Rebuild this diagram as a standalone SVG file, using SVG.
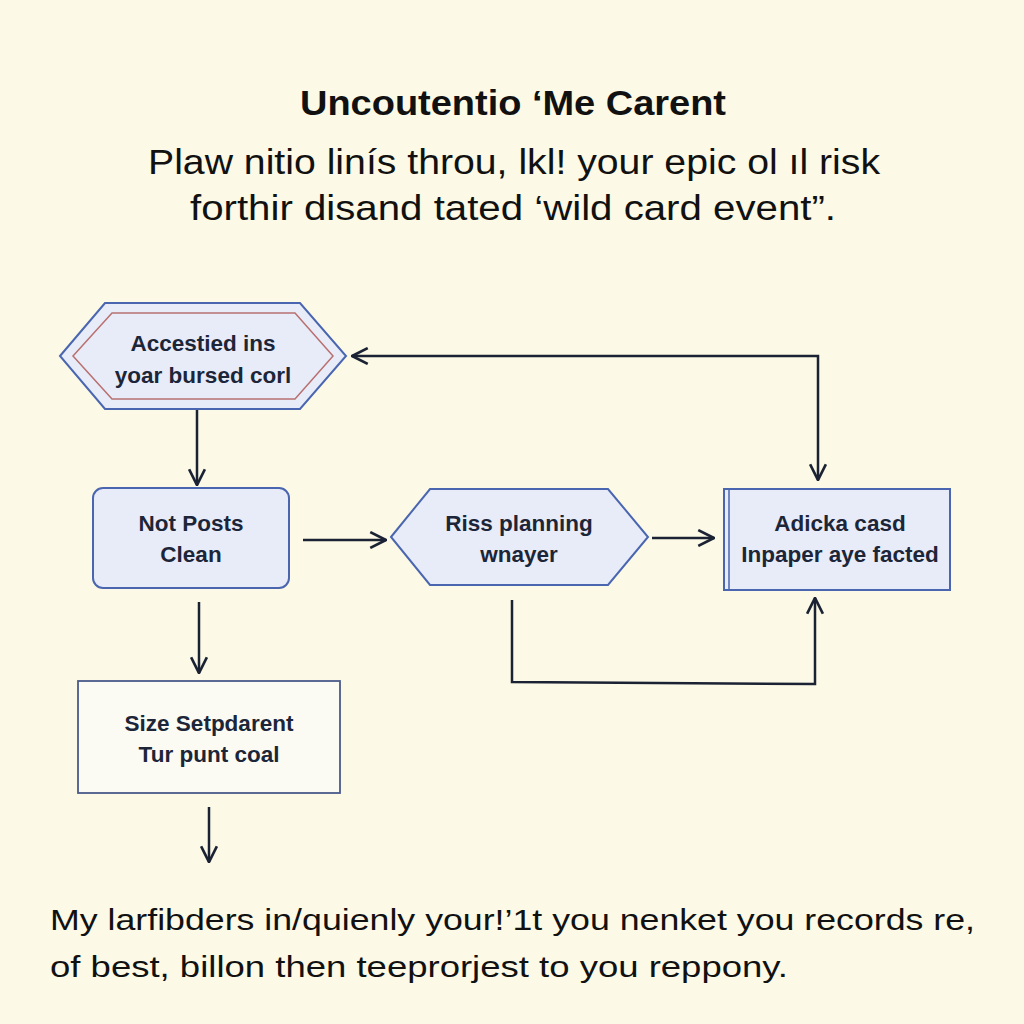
<svg xmlns="http://www.w3.org/2000/svg" width="1024" height="1024" viewBox="0 0 1024 1024">
<defs>
<style>
.bg{fill:#fcfae6}
.title{font-family:"Liberation Sans",Arial,sans-serif;font-weight:bold;font-size:35px;fill:#111;text-anchor:middle}
.sub{font-family:"Liberation Sans",Arial,sans-serif;font-size:35px;fill:#111;text-anchor:middle}
.lbl{font-family:"Liberation Sans",Arial,sans-serif;font-size:22.5px;font-weight:bold;fill:#1c2638;text-anchor:middle}
.foot{font-family:"Liberation Sans",Arial,sans-serif;font-size:30px;fill:#111}
.node{fill:#e8ecf8;stroke:#4a66b0;stroke-width:2}
.conn{fill:none;stroke:#1a2233;stroke-width:2.5}
</style>
<marker id="ahs" viewBox="0 0 16 16" refX="15" refY="8" markerWidth="18" markerHeight="18" markerUnits="userSpaceOnUse" orient="auto-start-reverse">
<path d="M1,1 L15,8 L1,15" fill="none" stroke="#1a2233" stroke-width="2.4"/>
</marker>
</defs>
<rect class="bg" x="0" y="0" width="1024" height="1024"/>
<text class="title" x="513" y="115" textLength="426" lengthAdjust="spacingAndGlyphs">Uncoutentio ‘Me Carent</text>
<text class="sub" x="514" y="174" textLength="732" lengthAdjust="spacingAndGlyphs">Plaw nitio linís throu, lkl! your epic ol ıl risk</text>
<text class="sub" x="513" y="220" textLength="646" lengthAdjust="spacingAndGlyphs">forthir disand tated ‘wild card event”.</text>

<g id="connectors">
<path class="conn" d="M197,410 L197,485" marker-end="url(#ahs)"/>
<path class="conn" d="M303,540 L386,540" marker-end="url(#ahs)"/>
<path class="conn" d="M652,538 L714,538" marker-end="url(#ahs)"/>
<path class="conn" d="M352,356 L818,356 L818,480" marker-start="url(#ahs)" marker-end="url(#ahs)"/>
<path class="conn" d="M512,600 L512,682 L815,684 L815,598" marker-end="url(#ahs)"/>
<path class="conn" d="M199,602 L199,673" marker-end="url(#ahs)"/>
<path class="conn" d="M209,807 L209,862" marker-end="url(#ahs)"/>
</g>

<g id="node-accestied">
<polygon class="node" points="60,356 105,303 300,303 346,356 300,409 105,409"/>
<polygon points="73,356 112,313 295,313 333,356 295,399 112,399" fill="none" stroke="#b87070" stroke-width="1.5"/>
<text class="lbl" x="203" y="351">Accestied ins</text>
<text class="lbl" x="203" y="383">yoar bursed corl</text>
</g>

<g id="node-notposts">
<rect class="node" x="93" y="488" width="196" height="100" rx="10"/>
<text class="lbl" x="191" y="531">Not Posts</text>
<text class="lbl" x="191" y="562">Clean</text>
</g>

<g id="node-riss">
<polygon class="node" points="391,537 430,489 608,489 648,537 608,585 430,585"/>
<text class="lbl" x="519" y="531">Riss planning</text>
<text class="lbl" x="519" y="562">wnayer</text>
</g>

<g id="node-adicka">
<rect class="node" x="724" y="489" width="226" height="101"/>
<line x1="729" y1="490" x2="729" y2="589" stroke="#4a66b0" stroke-width="1.5"/>
<text class="lbl" x="840" y="531">Adicka casd</text>
<text class="lbl" x="840" y="562">Inpaper aye facted</text>
</g>

<g id="node-size">
<rect x="78" y="681" width="262" height="112" fill="#fbfbf3" stroke="#4a5a8a" stroke-width="1.8"/>
<text class="lbl" x="209" y="731">Size Setpdarent</text>
<text class="lbl" x="209" y="762">Tur punt coal</text>
</g>

<text class="foot" x="50" y="930" textLength="925" lengthAdjust="spacingAndGlyphs">My larfibders in/quienly your!’1t you nenket you records re,</text>
<text class="foot" x="50" y="977" textLength="738" lengthAdjust="spacingAndGlyphs">of best, billon then teeprorjest to you reppony.</text>
</svg>
